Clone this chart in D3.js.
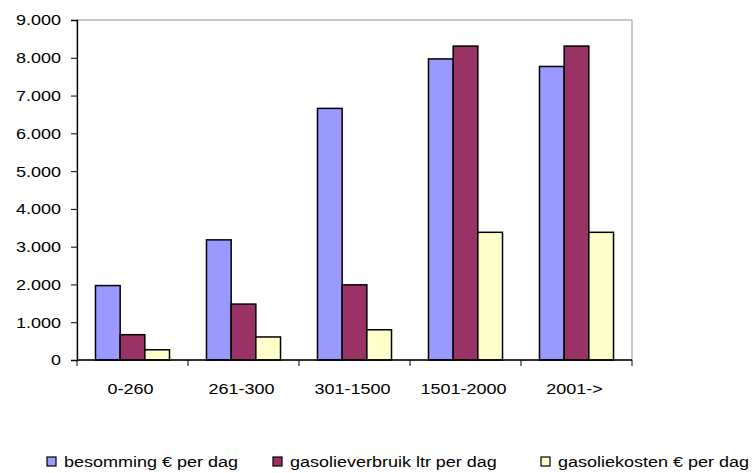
<!DOCTYPE html>
<html><head><meta charset="utf-8">
<script src="https://cdn.jsdelivr.net/npm/d3@7"></script>
<style>
html,body{margin:0;padding:0;background:#fff;}
text{font-family:"Liberation Sans",Arial,sans-serif;fill:#000;}
</style></head>
<body><svg id="c" width="752" height="473"></svg>
<script>
const categories = ["0-260","261-300","301-1500","1501-2000","2001->"];
const seriesNames = ["besomming \u20ac per dag","gasolieverbruik ltr per dag","gasoliekosten \u20ac per dag"];
const besomming = [1970, 3180, 6660, 7970, 7770];
const gasolieverbruik = [670, 1480, 1990, 8310, 8310];
const gasoliekosten = [270, 610, 800, 3380, 3380];
const yTicks = [0,1000,2000,3000,4000,5000,6000,7000,8000,9000];
const colors = ["#9999FF","#993366","#FFFFCC"];
const series = [besomming, gasolieverbruik, gasoliekosten];

const svg = d3.select("#c");
const L = 77, R = 632, T = 20, B = 360;
const FS = 15, SX = 1.2;

const x = d3.scaleBand().domain(categories).range([L, R]).paddingInner(0.333).paddingOuter(0.1665);
const xFull = d3.scaleBand().domain(categories).range([L, R]);
const xs = d3.scaleBand().domain(d3.range(3)).range([0, x.bandwidth()]);
const y = d3.scaleLinear().domain([0, 9000]).range([B, T]);

svg.append("rect").attr("x", L).attr("y", T).attr("width", R - L).attr("height", B - T)
  .attr("fill", "none").attr("stroke", "#909090").attr("stroke-width", 1);

const g = svg.append("g");
categories.forEach((c, i) => {
  series.forEach((s, j) => {
    g.append("rect")
      .attr("x", x(c) + xs(j))
      .attr("y", y(s[i]))
      .attr("width", xs.bandwidth())
      .attr("height", B - y(s[i]))
      .attr("fill", colors[j])
      .attr("stroke", "#000").attr("stroke-width", 1.5);
  });
});

const fmt = v => v === 0 ? "0" : d3.format(",")(v).replace(/,/g, ".");
const yAxis = svg.append("g").attr("transform", `translate(${L},0)`)
  .call(d3.axisLeft(y).tickValues(yTicks).tickSize(6).tickFormat(fmt));
yAxis.select(".domain").attr("stroke", "#000").attr("stroke-width", 1.3);
yAxis.selectAll(".tick line").attr("stroke", "#000");
yAxis.selectAll(".tick text").remove();
yTicks.forEach(v => {
  svg.append("text")
    .attr("transform", `translate(61,${y(v)}) scale(${SX},1)`)
    .attr("text-anchor", "end").attr("dy", "0.36em")
    .style("font-size", FS + "px")
    .text(fmt(v));
});

const xAxisG = svg.append("g").attr("transform", `translate(0,${B})`);
xAxisG.append("line").attr("x1", L).attr("x2", R).attr("stroke", "#000").attr("stroke-width", 1.3);
const bounds = categories.map(c => xFull(c)).concat([R]);
xAxisG.selectAll("line.t").data(bounds).join("line").attr("class", "t")
  .attr("x1", d => d).attr("x2", d => d).attr("y1", 0).attr("y2", 6).attr("stroke", "#000");
categories.forEach(c => {
  svg.append("text")
    .attr("transform", `translate(${xFull(c) + xFull.bandwidth() / 2 - 2},394) scale(${SX},1)`)
    .attr("text-anchor", "middle")
    .style("font-size", FS + "px").text(c);
});

const legX = [47, 273, 541];
seriesNames.forEach((n, j) => {
  svg.append("rect").attr("x", legX[j]).attr("y", 457).attr("width", 9).attr("height", 9)
    .attr("fill", colors[j]).attr("stroke", "#000").attr("stroke-width", 1.2);
  svg.append("text")
    .attr("transform", `translate(${legX[j] + 17},467) scale(${SX},1)`)
    .style("font-size", FS + "px").text(n);
});
</script></body></html>
